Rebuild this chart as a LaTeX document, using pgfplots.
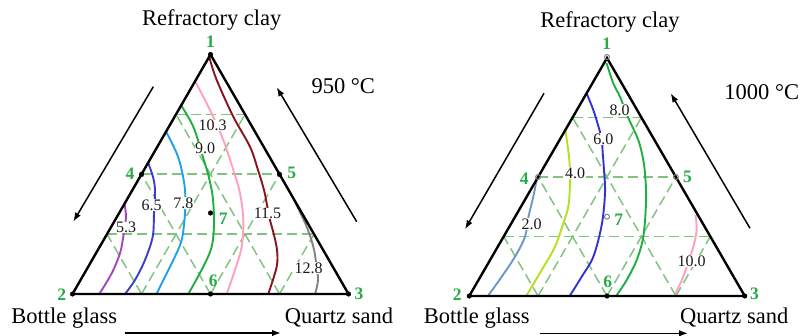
\documentclass[border=0pt]{standalone}
\usepackage{pgfplots}
\pgfplotsset{compat=1.18}
\usepackage{fontspec}
\setmainfont{Liberation Serif}
\usetikzlibrary{arrows.meta}

% contour colours
\definecolor{cPurple}{RGB}{165,70,185}
\definecolor{cIndigo}{RGB}{60,60,205}
\definecolor{cSky}{RGB}{30,160,235}
\definecolor{cGreen}{RGB}{30,175,65}
\definecolor{cPink}{RGB}{255,160,190}
\definecolor{cMaroon}{RGB}{135,20,30}
\definecolor{cGray}{RGB}{130,130,130}
\definecolor{cSteel}{RGB}{110,150,200}
\definecolor{cLime}{RGB}{180,225,30}
\definecolor{cBlue}{RGB}{50,50,215}
% grid and point numbers
\definecolor{gridc}{RGB}{130,195,130}
\definecolor{numc}{RGB}{40,170,70}

\newcommand{\bigfont}{\fontsize{22.5}{26}\selectfont}
\newcommand{\smallfont}{\fontsize{16}{18}\selectfont}
\newcommand{\numfont}{\fontsize{17.5}{19}\selectfont\bfseries}

\tikzset{
  cont/.style={line width=1.9pt, smooth, tension=0.55},
  lbl/.style={fill=white, inner sep=0.5pt, text=black!90, font=\smallfont},
  num/.style={text=numc, font=\numfont},
  arr/.style={black, line width=1.5pt, -{Latex[length=9pt,width=6.5pt]}},
}

% one dashed grid segment
\newcommand{\gridseg}[4]{\addplot[gridc, line width=1.5pt, dash pattern=on 10pt off 5pt] coordinates {(#1,#2) (#3,#4)};}

\begin{document}
\begin{tikzpicture}
\begin{axis}[
  scale only axis, width=802pt, height=336pt,
  xmin=0, xmax=802, ymin=0, ymax=336, y dir=reverse,
  hide axis, clip=false,
]

% ---------------- 950 °C diagram ----------------
% grid at quarter steps
\gridseg{176}{114.4}{245}{114.4}
\gridseg{141.5}{174.25}{279.5}{174.25}
\gridseg{107}{234.1}{314}{234.1}
\gridseg{141.5}{294}{245}{114.4}
\gridseg{210.5}{294}{279.5}{174.25}
\gridseg{279.5}{294}{314}{234.1}
\gridseg{141.5}{294}{107}{234.1}
\gridseg{210.5}{294}{141.5}{174.25}
\gridseg{279.5}{294}{176}{114.4}

% iso-lines
\addplot[cont, cPurple] coordinates {(124.5,203) (126,216.7) (124.5,228) (123.3,236.7) (120,253.3) (111.7,273.3) (99.3,294)};
\addplot[cont, cIndigo] coordinates {(148.3,163) (153.3,178) (155,190) (154.5,205) (154,213.3) (152.7,236.7) (145,260) (135,280) (125,294)};
\addplot[cont, cSky] coordinates {(166,131.5) (176.7,153.3) (181.7,170) (185,190) (185,213.3) (181.7,240) (173.3,260) (165,276.7) (156.5,294)};
\addplot[cont, cGreen] coordinates {(181,105) (191.7,123.3) (197,137) (203.3,158.3) (208.3,175) (212.7,196.7) (214,223.3) (211.7,246.7) (203.3,266.7) (188.3,294)};
\addplot[cont, cPink] coordinates {(195.5,82) (210,110) (223.3,140) (233.3,170) (240,193.3) (243.3,220) (241.7,246.7) (235,270) (226.7,294)};
\addplot[cont, cMaroon] coordinates {(209.5,58) (216.7,80) (233.3,116.7) (250,146.7) (258,170) (264,190) (267,205) (270,220) (274,235) (277,250) (276.7,266.7) (268.3,294)};
\addplot[cont, cGray] coordinates {(295.5,203) (306.7,226.7) (313.3,246.7) (316,262) (318,280) (315,294)};

% triangle
\addplot[black, line width=2.4pt, line join=miter] coordinates {(210.5,54.5) (72.5,294) (348.5,294)} -- cycle;

% composition points
\addplot[only marks, mark=*, mark size=2.3pt, black] coordinates {(210.5,54.5) (72.5,294) (348.5,294) (141.5,174.25) (279.5,174.25) (210.5,294) (210.5,213)};

% iso-line values
\node[lbl] at (axis cs:126,227.5) {5.3};
\node[lbl] at (axis cs:151.7,205) {6.5};
\node[lbl] at (axis cs:183.3,203) {7.8};
\node[lbl] at (axis cs:205,148.5) {9.0};
\node[lbl] at (axis cs:212.5,125.5) {10.3};
\node[lbl] at (axis cs:267.5,213.5) {11.5};
\node[lbl] at (axis cs:308.5,268.3) {12.8};

% point numbers
\node[num] at (axis cs:210.5,41.7) {1};
\node[num] at (axis cs:61.7,295) {2};
\node[num] at (axis cs:359,293.5) {3};
\node[num] at (axis cs:130,174) {4};
\node[num] at (axis cs:291.7,172.7) {5};
\node[num] at (axis cs:213.3,281) {6};
\node[num] at (axis cs:223.3,218.3) {7};

% component names and arrows
\node[font=\bigfont, anchor=base] at (axis cs:211.7,26) {Refractory clay};
\node[font=\bigfont, anchor=base] at (axis cs:343.3,93.3) {950 °C};
\node[font=\bigfont, anchor=base] at (axis cs:64.2,323.3) {Bottle glass};
\node[font=\bigfont, anchor=base] at (axis cs:339,323.3) {Quartz sand};
\addplot[arr] coordinates {(153.3,86.7) (73.3,221.7)};
\addplot[arr] coordinates {(356.7,221.7) (276.7,87.3)};
\addplot[arr] coordinates {(125,333) (281,333)};

% ---------------- 1000 °C diagram ----------------
\gridseg{572.6}{117.5}{641.4}{117.5}
\gridseg{538.1}{177}{675.9}{177}
\gridseg{503.7}{236.5}{710.3}{236.5}
\gridseg{538.1}{296}{641.4}{117.5}
\gridseg{607}{296}{675.9}{177}
\gridseg{675.9}{296}{710.3}{236.5}
\gridseg{538.1}{296}{503.7}{236.5}
\gridseg{607}{296}{538.1}{177}
\gridseg{675.9}{296}{572.6}{117.5}

\addplot[cont, cSteel] coordinates {(537,178) (533.3,196.7) (528.5,216.7) (525,236.7) (515,256.7) (501.7,276.7) (488.3,295.5)};
\addplot[cont, cLime] coordinates {(565.5,131) (569,156.7) (570,173) (570,185) (568.3,206.7) (563.3,223.3) (555,246.7) (541.7,270) (526.5,295.5)};
\addplot[cont, cBlue] coordinates {(586.5,93) (593.3,110) (598,125) (602,140) (602.5,150) (604,170) (605,193.3) (601.7,225) (593.3,256.7) (581.7,276.7) (570,295.5)};
\addplot[cont, cGreen] coordinates {(606.5,63) (613.3,83.3) (620,96.7) (625,110) (630,121.7) (638.3,140) (643.3,160) (645.5,180) (646,203.3) (643.3,236.7) (636.7,260) (626.7,280) (616.5,295.5)};
\addplot[cont, cPink] coordinates {(695.5,215) (696.7,230) (693.3,246.7) (689,260) (683.3,276.7) (675,294.5)};

\addplot[black, line width=2.4pt, line join=miter] coordinates {(607,58) (469.25,296) (744.75,296)} -- cycle;

\addplot[only marks, mark=*, mark size=2.3pt, black] coordinates {(469.25,296) (744.75,296) (607,296)};
\addplot[only marks, mark=o, mark size=2.5pt, gray, line width=1pt, mark options={fill=white}] coordinates {(607,57) (538.1,177) (675.9,177) (607,216.7)};

\node[lbl] at (axis cs:531.5,224) {2.0};
\node[lbl] at (axis cs:575,173.3) {4.0};
\node[lbl] at (axis cs:603.3,139.3) {6.0};
\node[lbl] at (axis cs:619.5,110) {8.0};
\node[lbl] at (axis cs:691.7,261) {10.0};

\node[num] at (axis cs:606.7,43.3) {1};
\node[num] at (axis cs:457.3,295) {2};
\node[num] at (axis cs:754.5,293.5) {3};
\node[num] at (axis cs:524.3,178.3) {4};
\node[num] at (axis cs:687.5,177) {5};
\node[num] at (axis cs:607.7,281.3) {6};
\node[num] at (axis cs:618.7,220) {7};

\node[font=\bigfont, anchor=base] at (axis cs:610,27.3) {Refractory clay};
\node[font=\bigfont, anchor=base] at (axis cs:761.7,99.3) {1000 °C};
\node[font=\bigfont, anchor=base] at (axis cs:476.7,323.3) {Bottle glass};
\node[font=\bigfont, anchor=base] at (axis cs:734.2,323.3) {Quartz sand};
\addplot[arr] coordinates {(544,93.3) (465,229.3)};
\addplot[arr] coordinates {(750,228.3) (670.7,93.3)};
\addplot[arr] coordinates {(540,333.3) (688,333.3)};

\end{axis}
\pgfresetboundingbox
\path[use as bounding box] (current axis.south west) rectangle (current axis.north east);
\end{tikzpicture}
\end{document}
